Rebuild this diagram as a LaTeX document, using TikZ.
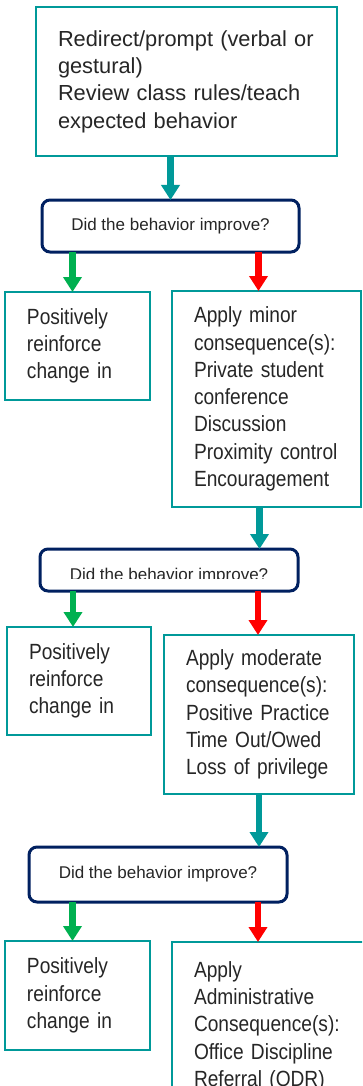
\documentclass[tikz,border=0pt]{standalone}
\usepackage{fontspec}
\setmainfont{Liberation Sans}
\newfontfamily\narrowfont[FakeStretch=0.87]{Liberation Sans}
\usetikzlibrary{arrows.meta,positioning}

\definecolor{boxteal}{RGB}{0,153,153}
\definecolor{decnavy}{RGB}{0,32,96}
\definecolor{yesgreen}{RGB}{0,176,80}
\definecolor{nored}{RGB}{255,0,0}
\definecolor{textgray}{RGB}{38,38,38}

\tikzset{
	stepbox/.style={draw=boxteal, line width=2.8pt, fill=white, inner xsep=22pt, inner ysep=0pt,
		outer sep=0pt, anchor=north west, align=left, text=textgray,
		font=\narrowfont\fontsize{22}{27.3}\selectfont},
	question/.style={draw=decnavy, line width=3pt, rounded corners=8pt, fill=white,
		outer sep=0pt, anchor=north west, text=textgray, font=\fontsize{17}{20}\selectfont},
	flow/.style={line width=6.5pt, -{Triangle[width=18pt,length=15pt]}},
}

\begin{document}
\begin{tikzpicture}[x=1pt, y=-1pt]
	\useasboundingbox (0,0) rectangle (362,1086);
	\clip (0,0) rectangle (362,1086);

	% First prompt and question
	\node[stepbox, minimum width=301pt, minimum height=149pt, text width=257pt,
		font=\fontsize{21.8}{27.3}\selectfont] (redirect) at (36,7)
		{Redirect/prompt (verbal or\\gestural)\\Review class rules/teach\\expected behavior};
	\node[question, minimum width=257pt, minimum height=52pt] (dec1) at (42,200) {Did the behavior improve?};
	\draw[flow, boxteal] (redirect.south -| dec1.north) -- (dec1.north);

	% Minor level
	\node[stepbox, minimum width=145pt, minimum height=108pt, text width=101pt] (praise1) at (5,292)
		{Positively\\reinforce\\change in};
	\node[stepbox, minimum width=189pt, minimum height=216pt, text width=145pt] (minor) at (172,291)
		{Apply minor\\consequence(s):\\Private student\\conference\\Discussion\\Proximity control\\Encouragement};
	\draw[flow, yesgreen] ([xshift=-5pt]praise1.north |- dec1.south) -- ([xshift=-5pt]praise1.north);
	\draw[flow, nored] ([xshift=-8pt]minor.north |- dec1.south) -- ([xshift=-8pt]minor.north);

	% Second question, its text cut by the box
	\node[question, minimum width=258pt, minimum height=42pt] (dec2) at (40,549) {};
	\begin{scope}
		\clip (dec2.north west) rectangle (298,578);
		\node[text=textgray, font=\fontsize{17}{20}\selectfont, anchor=base] (q2) at (169,580) {Did the behavior improve?};
	\end{scope}
	\draw[flow, boxteal] ([xshift=-7pt]minor.south) -- ([xshift=-7pt]minor.south |- dec2.north);

	% Moderate level
	\node[stepbox, minimum width=144pt, minimum height=108pt, text width=100pt] (praise2) at (7,627)
		{Positively\\reinforce\\change in};
	\node[stepbox, minimum width=190pt, minimum height=159pt, text width=146pt] (moderate) at (164,635)
		{Apply moderate\\consequence(s):\\Positive Practice\\Time Out/Owed\\Loss of privilege};
	\draw[flow, yesgreen] ([xshift=-6pt]praise2.north |- dec2.south) -- ([xshift=-6pt]praise2.north);
	\draw[flow, nored] ([xshift=-1pt]moderate.north |- dec2.south) -- ([xshift=-1pt]moderate.north);

	% Third question and administrative level
	\node[question, minimum width=258pt, minimum height=55pt] (dec3) at (29,847) {Did the behavior improve?};
	\draw[flow, boxteal] (moderate.south) -- (moderate.south |- dec3.north);
	\node[stepbox, minimum width=145pt, minimum height=109pt, text width=101pt] (praise3) at (5,941)
		{Positively\\reinforce\\change in};
	\node[stepbox, minimum width=206pt, minimum height=168pt, text width=162pt] (admin) at (172,942)
		{Apply\\Administrative\\Consequence(s):\\Office Discipline\\Referral (ODR)};
	\draw[flow, yesgreen] ([xshift=-5pt]praise3.north |- dec3.south) -- ([xshift=-5pt]praise3.north);
	\draw[flow, nored] ([xshift=-17pt]admin.north |- dec3.south) -- ([xshift=-17pt]admin.north);
\end{tikzpicture}
\end{document}
